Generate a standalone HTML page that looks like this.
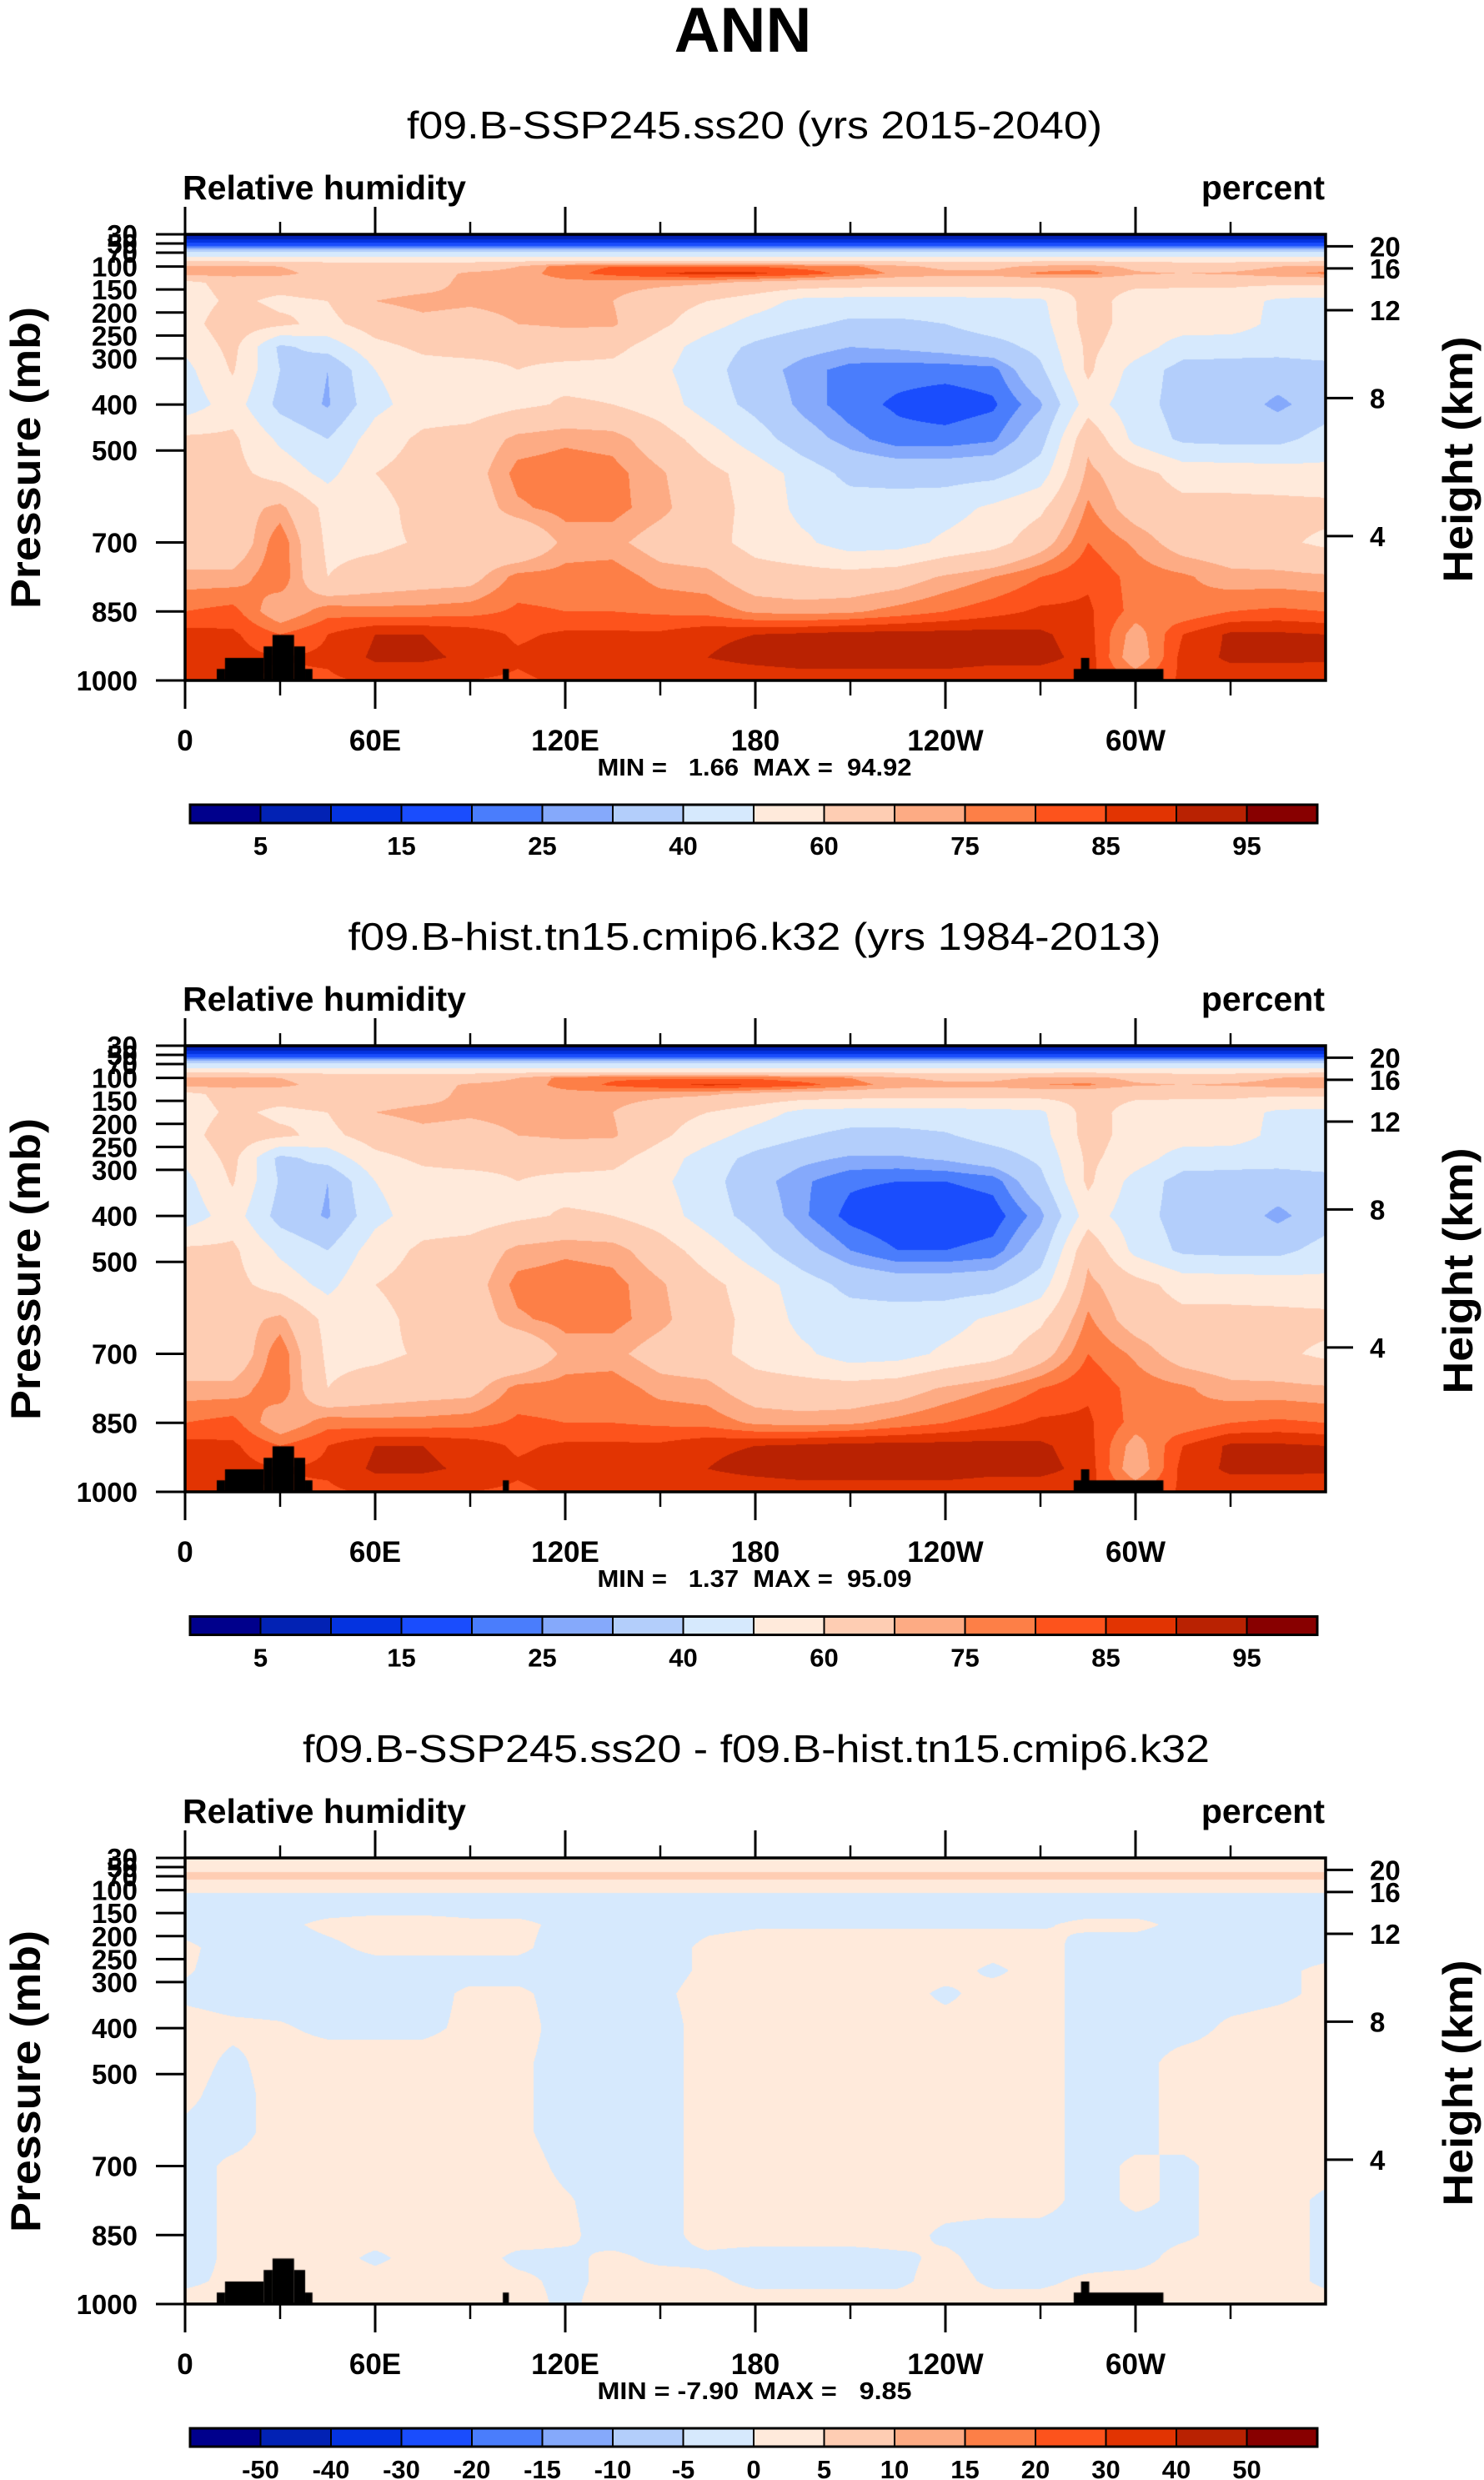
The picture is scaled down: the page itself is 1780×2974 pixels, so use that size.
<!DOCTYPE html>
<html><head><meta charset="utf-8"><title>ANN Relative humidity</title>
<style>
body{margin:0;width:1780px;height:2974px;position:relative;background:#fff;overflow:hidden;font-family:"Liberation Sans",sans-serif}
canvas{position:absolute;left:222px}
svg{position:absolute;left:0;top:0}
text{font-family:"Liberation Sans",sans-serif}
</style></head>
<body>
<canvas id="c0" width="1368" height="535" style="top:281px"></canvas>
<canvas id="c1" width="1368" height="535" style="top:1254px"></canvas>
<canvas id="c2" width="1368" height="535" style="top:2228px"></canvas>
<svg id="svg" width="1780" height="2974">
<text x="891" y="62" font-size="76" font-weight="bold" text-anchor="middle">ANN</text>
<text x="905" y="166" font-size="46" text-anchor="middle" textLength="834" lengthAdjust="spacingAndGlyphs">f09.B-SSP245.ss20 (yrs 2015-2040)</text>
<text x="905" y="1139" font-size="46" text-anchor="middle" textLength="975" lengthAdjust="spacingAndGlyphs">f09.B-hist.tn15.cmip6.k32 (yrs 1984-2013)</text>
<text x="907" y="2113" font-size="46" text-anchor="middle" textLength="1088" lengthAdjust="spacingAndGlyphs">f09.B-SSP245.ss20 - f09.B-hist.tn15.cmip6.k32</text>
<g>
<text x="219" y="239" font-size="41" font-weight="bold" textLength="340" lengthAdjust="spacingAndGlyphs">Relative humidity</text>
<text x="1589" y="239" font-size="41" font-weight="bold" text-anchor="end">percent</text>
<text x="905" y="930" font-size="29" font-weight="bold" text-anchor="middle" textLength="377" lengthAdjust="spacingAndGlyphs" xml:space="preserve">MIN =   1.66  MAX =  94.92</text>
<text transform="translate(48,549) rotate(-90)" font-size="50" font-weight="bold" text-anchor="middle" textLength="362" lengthAdjust="spacingAndGlyphs">Pressure (mb)</text>
<text transform="translate(1766,551) rotate(-90)" font-size="50" font-weight="bold" text-anchor="middle" textLength="295" lengthAdjust="spacingAndGlyphs">Height (km)</text>
</g>
<g>
<text x="219" y="1212" font-size="41" font-weight="bold" textLength="340" lengthAdjust="spacingAndGlyphs">Relative humidity</text>
<text x="1589" y="1212" font-size="41" font-weight="bold" text-anchor="end">percent</text>
<text x="905" y="1903" font-size="29" font-weight="bold" text-anchor="middle" textLength="377" lengthAdjust="spacingAndGlyphs" xml:space="preserve">MIN =   1.37  MAX =  95.09</text>
<text transform="translate(48,1522) rotate(-90)" font-size="50" font-weight="bold" text-anchor="middle" textLength="362" lengthAdjust="spacingAndGlyphs">Pressure (mb)</text>
<text transform="translate(1766,1524) rotate(-90)" font-size="50" font-weight="bold" text-anchor="middle" textLength="295" lengthAdjust="spacingAndGlyphs">Height (km)</text>
</g>
<g>
<text x="219" y="2186" font-size="41" font-weight="bold" textLength="340" lengthAdjust="spacingAndGlyphs">Relative humidity</text>
<text x="1589" y="2186" font-size="41" font-weight="bold" text-anchor="end">percent</text>
<text x="905" y="2877" font-size="29" font-weight="bold" text-anchor="middle" textLength="377" lengthAdjust="spacingAndGlyphs" xml:space="preserve">MIN = -7.90  MAX =   9.85</text>
<text transform="translate(48,2496) rotate(-90)" font-size="50" font-weight="bold" text-anchor="middle" textLength="362" lengthAdjust="spacingAndGlyphs">Pressure (mb)</text>
<text transform="translate(1766,2498) rotate(-90)" font-size="50" font-weight="bold" text-anchor="middle" textLength="295" lengthAdjust="spacingAndGlyphs">Height (km)</text>
</g>
</svg>
<script>
// ---- data ----
const lonCols = [0,15,30,45,60,75,90,105,120,135,150,165,180,195,210,225,240,255,270,285,300,315,330,345,360];
const presRows = [30,40,55,70,85,100,115,135,175,225,275,325,400,475,550,625,700,775,850,900,950,1000];
const rhLevels = [5,10,15,20,25,30,40,50,60,70,75,80,85,90,95];
const diffLevels = [-50,-40,-30,-20,-15,-10,-5,0,5,10,15,20,30,40,50];
const rhBarLabels = ['','5','','15','','25','','40','','60','','75','','85','','95',''];
const diffBarLabels = ['','-50','-40','-30','-20','-15','-10','-5','0','5','10','15','20','30','40','50',''];
const palette = ['#00008c','#0222b4','#0433e0','#1a4dfd','#4a7dfc','#85a9fb','#b3cefb','#d6e9fd','#ffeadb','#fecdb3','#fdab84','#fd7f47','#fd531c','#e23402','#b92202','#880000'];
const xTickLon = [0,60,120,180,240,300];
const xTickLabels = ['0','60E','120E','180','120W','60W'];
const xMinorLon = [30,90,150,210,270,330];
const pTicks = [30,50,70,100,150,200,250,300,400,500,700,850,1000];
const pTickLabels = ['30','50','70','100','150','200','250','300','400','500','700','850','1000'];
const hTickP = [56,104,195,386,686];
const hTickLabels = ['20','16','12','8','4'];
const topoLon0 = [10,12.6,24.8,27.6,34.4,37.9,100.3,280.5,282.8];
const topoLon1 = [12.6,24.8,27.6,34.4,37.9,40.2,102.2,308.8,285.4];
const topoP = [975,951,926,901,926,975,975,975,951];

const rh1 = [
[2,2,2,2,2,2,2,2,2,2,2,2,2,2,2,2,2,2,2,2,2,2,2,2,2],
[10,10,10,10,10,10,10,10,10,10,10,10,10,10,10,10,10,10,10,10,10,10,10,10,10],
[20,20,20,20,20,20,20,20,20,20,20,20,20,20,20,20,20,20,20,20,20,20,20,20,20],
[42,42,42,42,42,42,42,42,42,42,42,42,42,42,42,42,42,42,42,42,42,42,42,42,42],
[56,56,56,56,56,56,56,56,56,56,56,56,56,56,56,56,56,56,56,56,56,56,56,56,56],
[72,72,70,66,66,66,66,70,78,80,80,80,80,78,76,72,68,68,72,73,68,66,66,70,72],
[73,73,72,67,67,67,71,72,78,82,85,87,86,83,78,74,72,72,76,77,71,70,71,74,76],
[57,64,64,66,66,67,72,72,73,73,72,71,68,66,65,64,64,64,64,63,62,62,62,62,62],
[55,62,58,60,70,72,71,72,71,70,64,60,55,47,46,46,46,47,48,64,56,55,55,48,47],
[56,66,62,57,65,68,67,70,71,71,62,54,46,42,38,38,40,45,46,64,56,55,55,47,46],
[52,63,38,44,57,62,64,63,65,63,55,45,38,33,30,31,33,36,43,62,55,45,44,44,46],
[47,61,40,30,50,56,56,60,57,57,52,44,34,27,23,22,22,23,38,62,46,36,36,35,36],
[44,55,37,29,47,55,55,58,61,60,55,45,37,28,22,19,17,19,29,55,44,36,35,28,35],
[62,62,48,40,55,62,64,72,74,73,65,55,45,34,27,22,22,24,36,68,47,38,37,37,44],
[63,63,56,47,60,64,66,77,78,77,71,63,56,46,37,36,36,37,45,72,64,56,56,55,53],
[64,66,72,57,57,63,64,74,77,77,72,64,57,47,45,45,46,52,58,76,66,63,63,63,63],
[63,63,79,58,58,61,65,60,72,72,66,64,56,52,45,46,52,56,66,80,74,66,64,62,58],
[72,72,79,60,64,66,67,77,77,78,73,72,65,64,64,66,71,75,80,84,78,76,72,72,71],
[80,82,70,78,77,77,78,81,80,80,79,78,74,73,74,77,80,83,86,86,78,76,80,81,80],
[87,86,80,85,90,90,88,84,86,86,86,89,90,91,92,92,92,92,91,87,72,85,91,91,90],
[90,87,85,86,91,91,89,86,88,87,87,90,92,93,93,93,93,92,92,88,70,87,91,91,91],
[86,86,84,84,86,86,85,84,86,86,86,86,86,87,87,87,87,86,86,86,80,86,87,87,86]];

const rh2 = [
[2,2,2,2,2,2,2,2,2,2,2,2,2,2,2,2,2,2,2,2,2,2,2,2,2],
[10,10,10,10,10,10,10,10,10,10,10,10,10,10,10,10,10,10,10,10,10,10,10,10,10],
[20,20,20,20,20,20,20,20,20,20,20,20,20,20,20,20,20,20,20,20,20,20,20,20,20],
[42,42,42,42,42,42,42,42,42,42,42,42,42,42,42,42,42,42,42,42,42,42,42,42,42],
[56,56,56,56,56,56,56,56,56,56,56,56,56,56,56,56,56,56,56,56,56,56,56,56,56],
[72,72,70,66,66,66,66,70,77,79,79,79,79,77,75,71,68,68,71,72,68,66,66,70,72],
[73,73,72,67,67,67,71,72,77,81,84,86,85,82,77,73,72,72,75,76,71,70,71,73,75],
[57,64,64,66,66,67,72,72,73,73,72,71,68,66,65,64,64,64,64,63,62,62,62,62,62],
[55,62,58,60,70,72,71,72,71,70,64,60,55,47,46,46,46,47,48,64,56,55,55,48,47],
[56,66,62,57,65,68,67,70,71,71,62,54,46,41,37,37,39,44,46,64,56,55,55,47,46],
[52,63,37,44,57,62,64,63,65,63,55,45,37,32,29,29,31,35,42,62,55,45,44,44,46],
[47,61,39,30,50,56,56,60,57,57,52,44,33,26,21,20,20,22,37,62,46,36,36,35,36],
[44,55,36,29,47,55,55,58,61,60,55,45,36,26,18,15,15,17,28,55,44,36,35,28,35],
[62,62,48,40,55,62,64,72,74,73,65,55,44,33,25,20,20,22,35,68,47,38,37,37,44],
[63,63,56,47,60,64,66,77,78,77,71,63,55,45,37,35,35,36,45,72,64,56,56,55,53],
[64,66,72,57,57,63,64,74,77,77,72,64,57,47,45,45,46,52,58,76,66,63,63,63,63],
[63,63,79,58,58,61,65,60,72,72,66,64,56,52,45,46,52,56,66,80,74,66,64,62,58],
[72,72,79,60,64,66,67,77,77,78,73,72,65,64,64,66,71,75,80,84,78,76,72,72,71],
[80,82,70,78,77,77,78,81,80,80,79,78,74,73,74,77,80,83,86,86,78,76,80,81,80],
[87,86,80,85,90,90,88,84,86,86,86,89,90,91,92,92,92,92,91,87,72,85,91,91,90],
[90,87,85,86,91,91,89,86,88,87,87,90,92,93,93,93,93,92,92,88,70,87,91,91,91],
[86,86,84,84,86,86,85,84,86,86,86,86,86,87,87,87,87,86,86,86,80,86,87,87,86]];

const rhDiff = [
[2,2,2,2,2,2,2,2,2,2,2,2,2,2,2,2,2,2,2,2,2,2,2,2,2],
[2,2,2,2,2,2,2,2,2,2,2,2,2,2,2,2,2,2,2,2,2,2,2,2,2],
[4,4,4,4,4,4,4,4,4,4,4,4,4,4,4,4,4,4,4,4,4,4,4,4,4],
[7,7,7,7,7,7,7,7,7,7,7,7,7,7,7,7,7,7,7,7,7,7,7,7,7],
[3,3,3,3,3,3,3,3,3,3,3,3,3,3,3,3,3,3,3,3,3,3,3,3,3],
[1,1,1,1,1,1,1,1,1,1,1,1,1,1,1,1,1,1,1,1,1,1,1,1,1],
[-1.5,-1.5,-1.5,-1.5,-1.5,-1.5,-1.5,-1.5,-1.5,-1.5,-1.5,-1.5,-1.5,-1.5,-1.5,-1.5,-1.5,-1.5,-1.5,-1.5,-1.5,-1.5,-1.5,-1.5,-1.5],
[-2,-2,-2,-2,-2,-2,-2,-2,-2,-2,-2,-2,-2,-2,-2,-2,-2,-2,-2,-2,-2,-2,-2,-2,-2],
[-2,-2,-1,1,2,2,1,1,-1,-2,-2,-1,-0.5,-0.5,-0.5,-0.5,-0.5,-0.5,-0.5,1,1,-1,-2,-2,-2],
[1,-2,-2,-1,1,1,1,1,-2,-2,-2,1,2,2,2,2,2,2,2,-2,-2,-2,-2,-2,-2],
[0.5,-2,-2,-2,-2,-2,-2,-2,-2,-2,-2,1,2,2,2,2,2,-1,2,-2,-2,-2,-2,-1,1],
[-1,-2,-2,-2,-2,-2,1,1,-2,-2,-1,2,2,2,2,2,-1,2,2,-2,-2,-2,-2,-1,1],
[2,1,0.5,-1,-1,-1,1,2,-2,-2,-2,2,2,2,2,2,2,2,2,-2,-2,-2,1,2,2],
[2,-1,2,2,2,2,2,1,-2,-2,-2,2,2,2,2,2,2,2,2,-2,-2,2,2,2,2],
[1,-2,2,2,2,2,2,1,-2,-2,-2,2,2,2,2,2,2,2,2,-2,-2,2,2,2,2],
[-1,-2,2,2,2,2,2,1,-2,-2,-2,2,2,2,2,2,2,2,2,-2,-2,2,2,2,2],
[-2,1,2,2,2,2,2,2,-1,-2,-2,2,2,2,2,2,2,2,2,-2,1,-1,2,2,2],
[-2,1,2,2,2,2,2,2,0.5,-2,-2,2,2,2,2,2,2,2,2,-2,1,-1,2,2,-1],
[-2,1,2,2,2,2,2,2,1,-2,-2,2,2,2,2,2,-1,-2,-2,-2,-2,-1,2,2,-1],
[-2,1,2,2,-1,2,2,-1,-1,1,-1,-1,-2,-2,-2,-1,1,-2,-2,-2,-2,2,2,2,-1],
[-1,1,1,2,2,2,2,1,-1,1,2,1,-1,-1,-1,-1,2,-1,-1,1,2,2,2,2,-1],
[2,2,2,2,2,2,2,2,-1,2,2,2,2,2,2,2,2,2,2,2,2,2,2,2,2]];

// ---- geometry ----
const PX0 = 222, PX1 = 1590, PH = 535;
const panelTop = [281, 1254, 2228];
function xOf(lon){ return PX0 + lon/360*(PX1-PX0); }
function yOf(p, k){ return panelTop[k] + (p-30)/970*PH; }
function hexRgb(h){ return [parseInt(h.substr(1,2),16),parseInt(h.substr(3,2),16),parseInt(h.substr(5,2),16)]; }
const rgbPal = palette.map(hexRgb);
function binOf(v, lev){ let b=0; for(let i=0;i<lev.length;i++){ if(v>=lev[i]) b=i+1; } return b; }

function drawField(k, grid, lev){
  const cv = document.getElementById('c'+k);
  const ctx = cv.getContext('2d');
  const W = cv.width, H = cv.height;
  const img = ctx.createImageData(W,H);
  const nC = lonCols.length;
  for(let py=0; py<H; py++){
    const p = 30 + (py+0.5)/H*970;
    let j=0; while(j<presRows.length-2 && p>presRows[j+1]) j++;
    const t = Math.min(1,Math.max(0,(p-presRows[j])/(presRows[j+1]-presRows[j])));
    for(let px=0; px<W; px++){
      const lon = (px+0.5)/W*360;
      let i = Math.min(nC-2, Math.floor(lon/15));
      const u = (lon-lonCols[i])/(lonCols[i+1]-lonCols[i]);
      const v = (1-t)*((1-u)*grid[j][i]+u*grid[j][i+1]) + t*((1-u)*grid[j+1][i]+u*grid[j+1][i+1]);
      const c = rgbPal[binOf(v,lev)];
      const o = (py*W+px)*4;
      img.data[o]=c[0]; img.data[o+1]=c[1]; img.data[o+2]=c[2]; img.data[o+3]=255;
    }
  }
  ctx.putImageData(img,0,0);
  ctx.fillStyle = '#000';
  for(let m=0;m<topoP.length;m++){
    const x0 = (topoLon0[m])/360*W, x1 = (topoLon1[m])/360*W;
    const y0 = (topoP[m]-30)/970*H;
    ctx.fillRect(x0, y0, x1-x0, H-y0);
  }
}
drawField(0, rh1, rhLevels);
drawField(1, rh2, rhLevels);
drawField(2, rhDiff, diffLevels);

// ---- axes ----
const svg = document.getElementById('svg');
const NS = 'http://www.w3.org/2000/svg';
function mk(tag, attrs, parent){ const e=document.createElementNS(NS,tag); for(const a in attrs) e.setAttribute(a,attrs[a]); (parent||svg).appendChild(e); return e; }

for(let k=0;k<3;k++){
  const top = panelTop[k], bot = top+PH;
  const g = mk('g',{});
  
  
  const frame = mk('rect',{x:PX0,y:top,width:PX1-PX0,height:PH,fill:'none',stroke:'#000','stroke-width':3.5},g);
  
  
  for(let i=0;i<xTickLon.length;i++){
    const x = xOf(xTickLon[i]);
    const t1 = mk('line',{x1:x,x2:x,y1:top,y2:top-33,stroke:'#000','stroke-width':3},g);
    
    
    const t2 = mk('line',{x1:x,x2:x,y1:bot,y2:bot+34,stroke:'#000','stroke-width':3},g);
    
    
    const lb = mk('text',{x:x,y:bot+84,'font-size':35,'font-weight':'bold','text-anchor':'middle'},g);
    lb.textContent = xTickLabels[i];
    
    
  }
  for(let i=0;i<xMinorLon.length;i++){
    const x = xOf(xMinorLon[i]);
    const m1 = mk('line',{x1:x,x2:x,y1:top,y2:top-15,stroke:'#000','stroke-width':2.5},g);
    
    
    const m2 = mk('line',{x1:x,x2:x,y1:bot,y2:bot+18,stroke:'#000','stroke-width':2.5},g);
    
    
  }
  for(let i=0;i<pTicks.length;i++){
    const y = yOf(pTicks[i],k);
    const t = mk('line',{x1:PX0,x2:PX0-35,y1:y,y2:y,stroke:'#000','stroke-width':3},g);
    
    
    const lb = mk('text',{x:165,y:y+12,'font-size':33,'font-weight':'bold','text-anchor':'end'},g);
    lb.textContent = pTickLabels[i];
    
    
  }
  for(let i=0;i<hTickP.length;i++){
    const y = yOf(hTickP[i],k);
    const t = mk('line',{x1:PX1,x2:PX1+33,y1:y,y2:y,stroke:'#000','stroke-width':3},g);
    
    
    const lb = mk('text',{x:1643,y:y+12,'font-size':33,'font-weight':'bold'},g);
    lb.textContent = hTickLabels[i];
    
    
  }
  const cbTop = 965 + k*973.5, cbX0 = 228, cbX1 = 1580, cbH = 22;
  const bw = (cbX1-cbX0)/palette.length;
  const labels = k<2 ? rhBarLabels : diffBarLabels;
  for(let i=0;i<palette.length;i++){
    const r = mk('rect',{x:cbX0+i*bw,y:cbTop,width:bw,height:cbH,fill:palette[i],stroke:'#000','stroke-width':2},g);
    
    
  }
  const cbf = mk('rect',{x:cbX0,y:cbTop,width:cbX1-cbX0,height:cbH,fill:'none',stroke:'#000','stroke-width':3},g);
  
  
  for(let i=0;i<labels.length;i++){
    if(!labels[i]) continue;
    const lb = mk('text',{x:cbX0+i*bw,y:cbTop+60,'font-size':31,'font-weight':'bold','text-anchor':'middle'},g);
    lb.textContent = labels[i];
    
    
  }
}
</script>
</body></html>
